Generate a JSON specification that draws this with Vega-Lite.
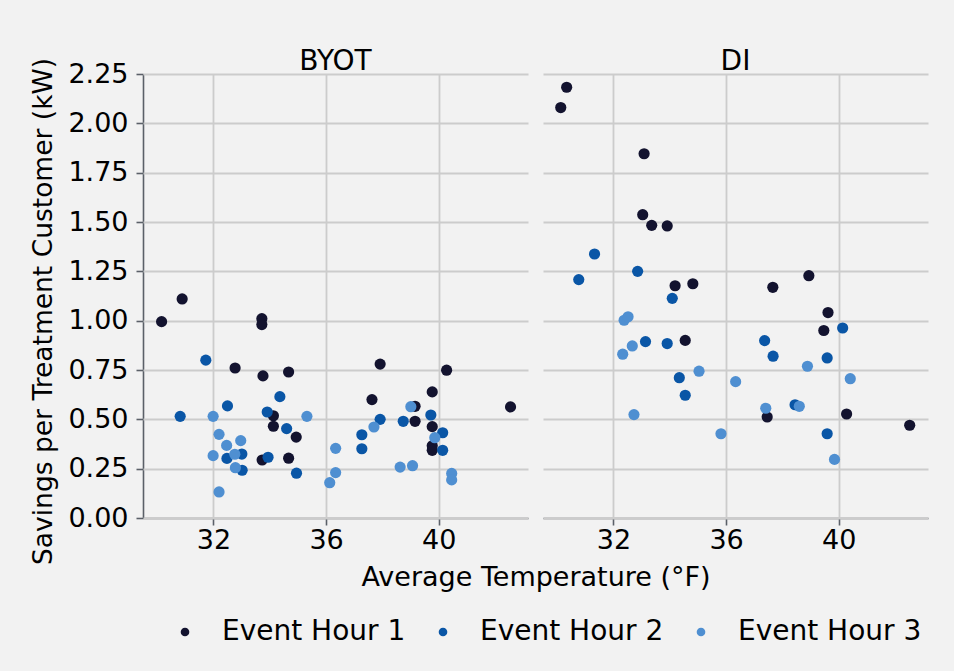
{
  "$schema": "https://vega.github.io/schema/vega-lite/v6.json",
  "background": "#f2f2f2",
  "padding": {"left": 30, "top": 48, "right": 29, "bottom": 28},
  "datasets": {
    "events": [
      {"program": "BYOT", "temp": 30.89, "savings": 1.11, "hour": "Event Hour 1"},
      {"program": "BYOT", "temp": 30.16, "savings": 0.995, "hour": "Event Hour 1"},
      {"program": "BYOT", "temp": 32.77, "savings": 0.76, "hour": "Event Hour 1"},
      {"program": "BYOT", "temp": 33.72, "savings": 1.01, "hour": "Event Hour 1"},
      {"program": "BYOT", "temp": 33.72, "savings": 0.98, "hour": "Event Hour 1"},
      {"program": "BYOT", "temp": 33.76, "savings": 0.72, "hour": "Event Hour 1"},
      {"program": "BYOT", "temp": 34.67, "savings": 0.74, "hour": "Event Hour 1"},
      {"program": "BYOT", "temp": 34.13, "savings": 0.518, "hour": "Event Hour 1"},
      {"program": "BYOT", "temp": 34.13, "savings": 0.465, "hour": "Event Hour 1"},
      {"program": "BYOT", "temp": 34.94, "savings": 0.41, "hour": "Event Hour 1"},
      {"program": "BYOT", "temp": 33.73, "savings": 0.294, "hour": "Event Hour 1"},
      {"program": "BYOT", "temp": 34.67, "savings": 0.303, "hour": "Event Hour 1"},
      {"program": "BYOT", "temp": 37.92, "savings": 0.78, "hour": "Event Hour 1"},
      {"program": "BYOT", "temp": 40.28, "savings": 0.749, "hour": "Event Hour 1"},
      {"program": "BYOT", "temp": 39.77, "savings": 0.639, "hour": "Event Hour 1"},
      {"program": "BYOT", "temp": 37.63, "savings": 0.6, "hour": "Event Hour 1"},
      {"program": "BYOT", "temp": 39.16, "savings": 0.566, "hour": "Event Hour 1"},
      {"program": "BYOT", "temp": 39.16, "savings": 0.49, "hour": "Event Hour 1"},
      {"program": "BYOT", "temp": 39.77, "savings": 0.463, "hour": "Event Hour 1"},
      {"program": "BYOT", "temp": 39.77, "savings": 0.366, "hour": "Event Hour 1"},
      {"program": "BYOT", "temp": 39.77, "savings": 0.343, "hour": "Event Hour 1"},
      {"program": "BYOT", "temp": 42.55, "savings": 0.563, "hour": "Event Hour 1"},
      {"program": "DI", "temp": 30.34, "savings": 2.183, "hour": "Event Hour 1"},
      {"program": "DI", "temp": 30.13, "savings": 2.08, "hour": "Event Hour 1"},
      {"program": "DI", "temp": 33.09, "savings": 1.846, "hour": "Event Hour 1"},
      {"program": "DI", "temp": 33.04, "savings": 1.537, "hour": "Event Hour 1"},
      {"program": "DI", "temp": 33.36, "savings": 1.483, "hour": "Event Hour 1"},
      {"program": "DI", "temp": 33.91, "savings": 1.48, "hour": "Event Hour 1"},
      {"program": "DI", "temp": 34.19, "savings": 1.177, "hour": "Event Hour 1"},
      {"program": "DI", "temp": 34.82, "savings": 1.187, "hour": "Event Hour 1"},
      {"program": "DI", "temp": 34.55, "savings": 0.9, "hour": "Event Hour 1"},
      {"program": "DI", "temp": 37.66, "savings": 1.169, "hour": "Event Hour 1"},
      {"program": "DI", "temp": 38.94, "savings": 1.228, "hour": "Event Hour 1"},
      {"program": "DI", "temp": 39.62, "savings": 1.041, "hour": "Event Hour 1"},
      {"program": "DI", "temp": 39.47, "savings": 0.95, "hour": "Event Hour 1"},
      {"program": "DI", "temp": 37.46, "savings": 0.512, "hour": "Event Hour 1"},
      {"program": "DI", "temp": 40.28, "savings": 0.527, "hour": "Event Hour 1"},
      {"program": "DI", "temp": 42.52, "savings": 0.47, "hour": "Event Hour 1"},
      {"program": "BYOT", "temp": 31.73, "savings": 0.8, "hour": "Event Hour 2"},
      {"program": "BYOT", "temp": 34.36, "savings": 0.615, "hour": "Event Hour 2"},
      {"program": "BYOT", "temp": 30.82, "savings": 0.515, "hour": "Event Hour 2"},
      {"program": "BYOT", "temp": 32.5, "savings": 0.568, "hour": "Event Hour 2"},
      {"program": "BYOT", "temp": 33.91, "savings": 0.537, "hour": "Event Hour 2"},
      {"program": "BYOT", "temp": 34.6, "savings": 0.453, "hour": "Event Hour 2"},
      {"program": "BYOT", "temp": 32.48, "savings": 0.302, "hour": "Event Hour 2"},
      {"program": "BYOT", "temp": 33.01, "savings": 0.324, "hour": "Event Hour 2"},
      {"program": "BYOT", "temp": 33.02, "savings": 0.242, "hour": "Event Hour 2"},
      {"program": "BYOT", "temp": 33.94, "savings": 0.308, "hour": "Event Hour 2"},
      {"program": "BYOT", "temp": 34.95, "savings": 0.227, "hour": "Event Hour 2"},
      {"program": "BYOT", "temp": 39.72, "savings": 0.522, "hour": "Event Hour 2"},
      {"program": "BYOT", "temp": 37.92, "savings": 0.5, "hour": "Event Hour 2"},
      {"program": "BYOT", "temp": 38.74, "savings": 0.49, "hour": "Event Hour 2"},
      {"program": "BYOT", "temp": 40.14, "savings": 0.432, "hour": "Event Hour 2"},
      {"program": "BYOT", "temp": 37.27, "savings": 0.422, "hour": "Event Hour 2"},
      {"program": "BYOT", "temp": 40.14, "savings": 0.343, "hour": "Event Hour 2"},
      {"program": "BYOT", "temp": 37.27, "savings": 0.351, "hour": "Event Hour 2"},
      {"program": "DI", "temp": 31.33, "savings": 1.338, "hour": "Event Hour 2"},
      {"program": "DI", "temp": 30.77, "savings": 1.208, "hour": "Event Hour 2"},
      {"program": "DI", "temp": 32.86, "savings": 1.25, "hour": "Event Hour 2"},
      {"program": "DI", "temp": 34.09, "savings": 1.113, "hour": "Event Hour 2"},
      {"program": "DI", "temp": 33.14, "savings": 0.894, "hour": "Event Hour 2"},
      {"program": "DI", "temp": 33.91, "savings": 0.884, "hour": "Event Hour 2"},
      {"program": "DI", "temp": 34.34, "savings": 0.711, "hour": "Event Hour 2"},
      {"program": "DI", "temp": 34.55, "savings": 0.622, "hour": "Event Hour 2"},
      {"program": "DI", "temp": 40.14, "savings": 0.963, "hour": "Event Hour 2"},
      {"program": "DI", "temp": 37.37, "savings": 0.899, "hour": "Event Hour 2"},
      {"program": "DI", "temp": 37.67, "savings": 0.82, "hour": "Event Hour 2"},
      {"program": "DI", "temp": 39.59, "savings": 0.811, "hour": "Event Hour 2"},
      {"program": "DI", "temp": 38.45, "savings": 0.574, "hour": "Event Hour 2"},
      {"program": "DI", "temp": 39.59, "savings": 0.427, "hour": "Event Hour 2"},
      {"program": "BYOT", "temp": 31.99, "savings": 0.515, "hour": "Event Hour 3"},
      {"program": "BYOT", "temp": 35.32, "savings": 0.515, "hour": "Event Hour 3"},
      {"program": "BYOT", "temp": 32.2, "savings": 0.424, "hour": "Event Hour 3"},
      {"program": "BYOT", "temp": 32.47, "savings": 0.368, "hour": "Event Hour 3"},
      {"program": "BYOT", "temp": 32.97, "savings": 0.392, "hour": "Event Hour 3"},
      {"program": "BYOT", "temp": 31.99, "savings": 0.316, "hour": "Event Hour 3"},
      {"program": "BYOT", "temp": 32.76, "savings": 0.323, "hour": "Event Hour 3"},
      {"program": "BYOT", "temp": 32.78, "savings": 0.255, "hour": "Event Hour 3"},
      {"program": "BYOT", "temp": 32.2, "savings": 0.132, "hour": "Event Hour 3"},
      {"program": "BYOT", "temp": 36.34, "savings": 0.353, "hour": "Event Hour 3"},
      {"program": "BYOT", "temp": 36.34, "savings": 0.23, "hour": "Event Hour 3"},
      {"program": "BYOT", "temp": 36.13, "savings": 0.179, "hour": "Event Hour 3"},
      {"program": "BYOT", "temp": 39.01, "savings": 0.564, "hour": "Event Hour 3"},
      {"program": "BYOT", "temp": 37.7, "savings": 0.461, "hour": "Event Hour 3"},
      {"program": "BYOT", "temp": 39.86, "savings": 0.407, "hour": "Event Hour 3"},
      {"program": "BYOT", "temp": 38.63, "savings": 0.258, "hour": "Event Hour 3"},
      {"program": "BYOT", "temp": 39.07, "savings": 0.265, "hour": "Event Hour 3"},
      {"program": "BYOT", "temp": 40.46, "savings": 0.226, "hour": "Event Hour 3"},
      {"program": "BYOT", "temp": 40.46, "savings": 0.193, "hour": "Event Hour 3"},
      {"program": "DI", "temp": 32.38, "savings": 1.002, "hour": "Event Hour 3"},
      {"program": "DI", "temp": 32.52, "savings": 1.02, "hour": "Event Hour 3"},
      {"program": "DI", "temp": 32.67, "savings": 0.872, "hour": "Event Hour 3"},
      {"program": "DI", "temp": 32.33, "savings": 0.83, "hour": "Event Hour 3"},
      {"program": "DI", "temp": 35.04, "savings": 0.744, "hour": "Event Hour 3"},
      {"program": "DI", "temp": 32.73, "savings": 0.524, "hour": "Event Hour 3"},
      {"program": "DI", "temp": 35.82, "savings": 0.427, "hour": "Event Hour 3"},
      {"program": "DI", "temp": 36.34, "savings": 0.691, "hour": "Event Hour 3"},
      {"program": "DI", "temp": 38.89, "savings": 0.769, "hour": "Event Hour 3"},
      {"program": "DI", "temp": 40.41, "savings": 0.706, "hour": "Event Hour 3"},
      {"program": "DI", "temp": 37.41, "savings": 0.556, "hour": "Event Hour 3"},
      {"program": "DI", "temp": 38.6, "savings": 0.566, "hour": "Event Hour 3"},
      {"program": "DI", "temp": 39.85, "savings": 0.297, "hour": "Event Hour 3"}
    ]
  },
  "data": {"name": "events"},
  "facet": {
    "column": {
      "field": "program",
      "type": "nominal",
      "title": "Average Temperature (°F)",
      "header": {
        "labelOrient": "top",
        "titleOrient": "bottom",
        "labelFont": "DejaVu Sans",
        "labelFontSize": 28,
        "labelColor": "#000000",
        "labelPadding": -2,
        "titleFont": "DejaVu Sans",
        "titleFontSize": 27,
        "titleFontWeight": "normal",
        "titleColor": "#000000",
        "titlePadding": 2
      }
    }
  },
  "spacing": 15,
  "spec": {
    "width": 385,
    "height": 444,
    "mark": {"type": "circle", "size": 125, "opacity": 1},
    "encoding": {
      "x": {
        "field": "temp",
        "type": "quantitative",
        "scale": {"domain": [29.5, 43.17], "nice": false, "zero": false},
        "axis": {"values": [32, 36, 40], "title": null, "labelPadding": 2}
      },
      "y": {
        "field": "savings",
        "type": "quantitative",
        "scale": {"domain": [0, 2.25], "nice": false},
        "axis": {
          "values": [0, 0.25, 0.5, 0.75, 1, 1.25, 1.5, 1.75, 2, 2.25],
          "format": ".2f",
          "title": "Savings per Treatment Customer (kW)",
          "titleFontSize": 26.5,
          "titleY": 237
        }
      },
      "color": {
        "field": "hour",
        "type": "nominal",
        "scale": {
          "domain": ["Event Hour 1", "Event Hour 2", "Event Hour 3"],
          "range": ["#13132f", "#0a56a6", "#4f8fd1"]
        },
        "legend": {
          "title": null,
          "orient": "none",
          "legendX": 28,
          "legendY": 544,
          "direction": "horizontal",
          "symbolType": "circle",
          "symbolSize": 75,
          "symbolOpacity": 1,
          "labelFont": "DejaVu Sans",
          "labelFontSize": 28,
          "labelColor": "#000000",
          "labelLimit": 400,
          "labelOffset": 23,
          "columnPadding": 23
        }
      }
    }
  },
  "config": {
    "view": {"stroke": null},
    "axis": {
      "domainColor": "#5b6068",
      "domainWidth": 1.6,
      "tickColor": "#5b6068",
      "tickWidth": 1.6,
      "tickSize": 7,
      "gridColor": "#cccccc",
      "gridWidth": 1.8,
      "labelFont": "DejaVu Sans",
      "labelFontSize": 27,
      "labelColor": "#000000",
      "labelPadding": 8,
      "titleFont": "DejaVu Sans",
      "titleFontSize": 27,
      "titleFontWeight": "normal",
      "titleColor": "#000000",
      "titlePadding": 10
    }
  }
}
